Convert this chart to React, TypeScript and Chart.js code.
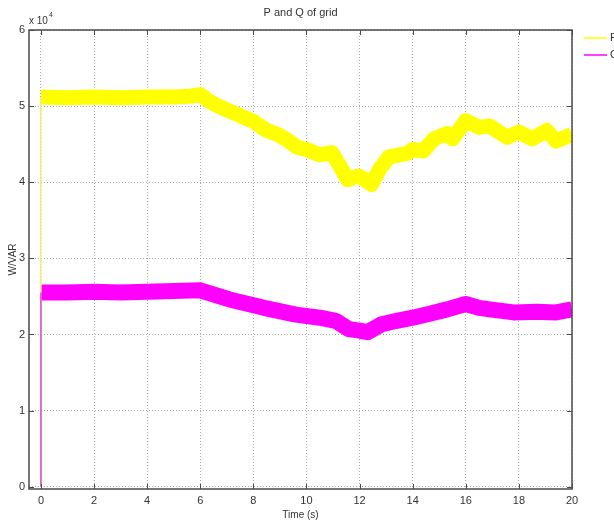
import React, { useEffect, useRef } from "react";
import { Chart, registerables } from "chart.js";

Chart.register(...registerables);

const chartTitle = "P and Q of grid";
const xTitle = "Time (s)";
const yTitle = "W/VAR";
const yExponentBase = "x 10";
const yExponent = "4";

const xTicks = [0, 2, 4, 6, 8, 10, 12, 14, 16, 18, 20];
const yTicks = [0, 1, 2, 3, 4, 5, 6];

const seriesNames = ["P", "Q"];
const seriesColors = ["#ffff00", "#ff00ff"];

// P (x 10^4 W)
const pTime = [0, 1, 2, 3, 4, 5, 5.6, 6.0, 6.4, 6.8, 7.2, 7.6, 8.0, 8.5, 8.9, 9.3, 9.65, 10.0, 10.5, 10.95, 11.25, 11.55, 11.8, 12.0, 12.2, 12.45, 12.75, 13.1, 13.5, 13.8, 14.0, 14.4, 14.8, 15.3, 15.5, 16.0, 16.5, 16.9, 17.55, 18.0, 18.5, 19.05, 19.4, 20];
const pValue = [5.12, 5.11, 5.12, 5.11, 5.12, 5.12, 5.13, 5.15, 5.05, 4.98, 4.92, 4.86, 4.8, 4.68, 4.63, 4.55, 4.46, 4.43, 4.36, 4.39, 4.22, 4.03, 4.07, 4.08, 4.03, 3.97, 4.17, 4.33, 4.36, 4.38, 4.43, 4.41, 4.57, 4.64, 4.57, 4.81, 4.72, 4.74, 4.59, 4.66, 4.57, 4.68, 4.54, 4.63];

// Q (x 10^4 VAR)
const qTime = [0, 1, 2, 3, 4, 5, 6, 7.1, 8.4, 9.6, 10.5, 11.1, 11.6, 12.0, 12.3, 12.8, 13.4, 14, 14.6, 15.3, 16, 16.5, 16.9, 17.8, 18.7, 19.4, 20];
const qValue = [2.55, 2.55, 2.56, 2.55, 2.56, 2.57, 2.58, 2.46, 2.35, 2.26, 2.22, 2.18, 2.07, 2.05, 2.03, 2.13, 2.18, 2.22, 2.27, 2.33, 2.4, 2.35, 2.33, 2.29, 2.3, 2.29, 2.33];

// start-up step at t = 0
const startTime = [0, 0];
const pStart = [0, 5.12];
const qStart = [0, 2.55];

const FONT = '"Liberation Sans Narrow", "Liberation Sans", Arial, sans-serif';
const TEXT = "#333333";

const toXY = (t: number[], v: number[]) => t.map((x, i) => ({ x, y: v[i] }));

const matlabPlugin = {
  id: "matlabDecor",
  afterDraw(chart: any) {
    const { ctx, chartArea: a, scales } = chart;
    ctx.save();
    // axes box
    ctx.strokeStyle = "#4a4a4a";
    ctx.lineWidth = 1.5;
    ctx.strokeRect(a.left, a.top, a.right - a.left, a.bottom - a.top);
    // inward ticks
    ctx.lineWidth = 1;
    ctx.beginPath();
    for (const v of xTicks) {
      const x = Math.round(scales.x.getPixelForValue(v)) + 0.5;
      ctx.moveTo(x, a.bottom);
      ctx.lineTo(x, a.bottom - 5);
      ctx.moveTo(x, a.top);
      ctx.lineTo(x, a.top + 5);
    }
    for (const v of yTicks) {
      const y = Math.round(scales.y.getPixelForValue(v)) + 0.5;
      ctx.moveTo(a.left, y);
      ctx.lineTo(a.left + 5, y);
      ctx.moveTo(a.right, y);
      ctx.lineTo(a.right - 5, y);
    }
    ctx.stroke();
    // title
    ctx.fillStyle = TEXT;
    ctx.font = `11px ${FONT}`;
    ctx.textAlign = "center";
    ctx.textBaseline = "middle";
    ctx.fillText(chartTitle, (a.left + a.right) / 2, 13);
    // exponent
    ctx.textAlign = "left";
    ctx.font = `10px ${FONT}`;
    ctx.fillText(yExponentBase, a.left, a.top - 9);
    const w = ctx.measureText(yExponentBase).width;
    ctx.font = `7px ${FONT}`;
    ctx.fillText(yExponent, a.left + w + 1, a.top - 15);
    // legend
    ctx.font = `11px ${FONT}`;
    seriesNames.forEach((name, i) => {
      const y = a.top + 8 + i * 17;
      ctx.strokeStyle = seriesColors[i];
      ctx.lineWidth = 1.5;
      ctx.beginPath();
      ctx.moveTo(a.right + 12, y);
      ctx.lineTo(a.right + 35, y);
      ctx.stroke();
      ctx.fillStyle = TEXT;
      ctx.fillText(name, a.right + 38, y);
    });
    ctx.restore();
  },
};

export default function App() {
  const ref = useRef<HTMLCanvasElement | null>(null);

  useEffect(() => {
    if (!ref.current) return;
    // Chart.js paints dataset 0 last (on top)
    const chart = new Chart(ref.current, {
      type: "line",
      data: {
        datasets: [
          {
            label: "Q start",
            data: toXY(startTime, qStart),
            borderColor: "#e040e0",
            borderWidth: 1.5,
            pointRadius: 0,
            fill: false,
          },
          {
            label: "P start",
            data: toXY(startTime, pStart),
            borderColor: "#f0f070",
            borderWidth: 1.5,
            pointRadius: 0,
            fill: false,
          },
          {
            label: seriesNames[0],
            data: toXY(pTime, pValue),
            borderColor: seriesColors[0],
            borderWidth: 15,
            pointRadius: 0,
            tension: 0,
            borderJoinStyle: "round",
            fill: false,
          },
          {
            label: seriesNames[1],
            data: toXY(qTime, qValue),
            borderColor: seriesColors[1],
            borderWidth: 16,
            pointRadius: 0,
            tension: 0,
            borderJoinStyle: "round",
            fill: false,
          },
        ],
      },
      options: {
        animation: false,
        responsive: false,
        layout: { padding: { top: 30, right: 42, left: 0, bottom: 0 } },
        plugins: {
          legend: { display: false },
          tooltip: { enabled: false },
          title: { display: false },
        },
        scales: {
          x: {
            type: "linear",
            min: -0.45,
            max: 20,
            afterBuildTicks: (s: any) => {
              s.ticks = xTicks.map((value) => ({ value }));
            },
            afterFit: (s: any) => {
              s.height = 32;
            },
            grid: { color: "#a8a8a8", lineWidth: 1, drawTicks: false },
            border: { display: false, dash: [1, 2] },
            ticks: {
              color: TEXT,
              font: { family: FONT, size: 11 },
              padding: 5,
              maxRotation: 0,
            },
            title: {
              display: true,
              text: xTitle,
              color: TEXT,
              font: { family: FONT, size: 10 },
              padding: { top: 0, bottom: 0 },
            },
          },
          y: {
            type: "linear",
            min: -0.03,
            max: 6,
            afterBuildTicks: (s: any) => {
              s.ticks = yTicks.map((value) => ({ value }));
            },
            afterFit: (s: any) => {
              s.width = 29;
            },
            grid: { color: "#a8a8a8", lineWidth: 1, drawTicks: false },
            border: { display: false, dash: [1, 2] },
            ticks: {
              color: TEXT,
              font: { family: FONT, size: 11 },
              padding: 4,
            },
            title: {
              display: true,
              text: yTitle,
              color: TEXT,
              font: { family: FONT, size: 10 },
              padding: { top: 7, bottom: 0 },
            },
          },
        },
      },
      plugins: [matlabPlugin],
    });
    return () => chart.destroy();
  }, []);

  return (
    <div style={{ position: "fixed", left: 0, top: 0, width: 614, height: 521, background: "#ffffff" }}>
      <canvas ref={ref} width={614} height={521} />
    </div>
  );
}
